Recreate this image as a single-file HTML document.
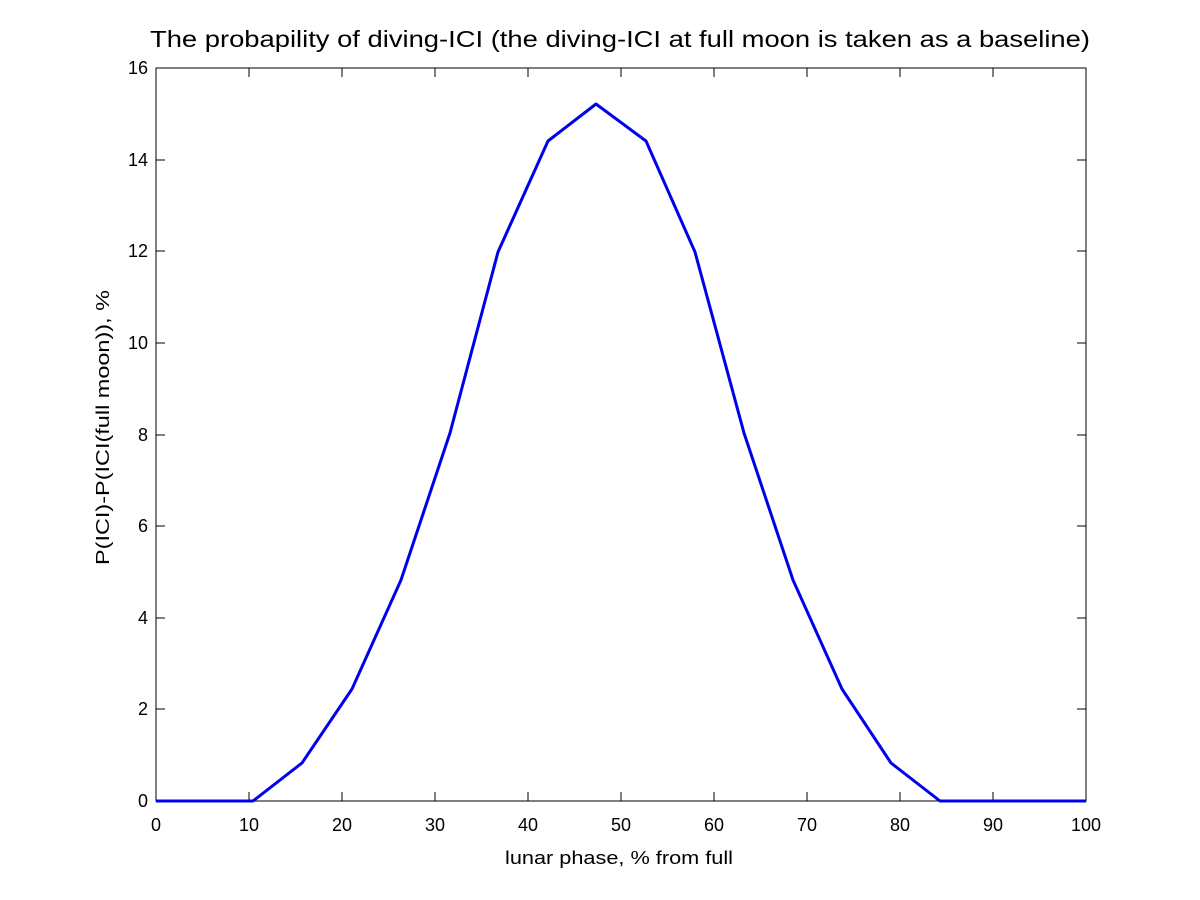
<!DOCTYPE html>
<html><head><style>body{margin:0;background:#fff}svg{display:block}text{font-family:"Liberation Sans",sans-serif;font-size:18px;fill:#000}</style></head><body>
<svg width="1200" height="900" xmlns="http://www.w3.org/2000/svg">
<rect width="1200" height="900" fill="#fff"/>
<rect x="156" y="68" width="930" height="733" fill="#fff" stroke="#000" stroke-width="1"/>
<g stroke="#000" stroke-width="1">
<path d="M156 801v-9M249 801v-9M342 801v-9M435 801v-9M528 801v-9M621 801v-9M714 801v-9M807 801v-9M900 801v-9M993 801v-9M1086 801v-9
M156 68v9M249 68v9M342 68v9M435 68v9M528 68v9M621 68v9M714 68v9M807 68v9M900 68v9M993 68v9M1086 68v9
M156 801h9M156 709h9M156 618h9M156 526h9M156 435h9M156 343h9M156 251h9M156 160h9M156 68h9
M1086 801h-9M1086 709h-9M1086 618h-9M1086 526h-9M1086 435h-9M1086 343h-9M1086 251h-9M1086 160h-9M1086 68h-9"/>
</g>
<g text-anchor="middle">
<text x="156" y="831">0</text><text x="249" y="831">10</text><text x="342" y="831">20</text><text x="435" y="831">30</text><text x="528" y="831">40</text><text x="621" y="831">50</text><text x="714" y="831">60</text><text x="807" y="831">70</text><text x="900" y="831">80</text><text x="993" y="831">90</text><text x="1086" y="831">100</text>
</g>
<g text-anchor="end">
<text x="148" y="807">0</text><text x="148" y="715">2</text><text x="148" y="624">4</text><text x="148" y="532">6</text><text x="148" y="441">8</text><text x="148" y="349">10</text><text x="148" y="257">12</text><text x="148" y="166">14</text><text x="148" y="74">16</text>
</g>
<text x="505" y="864" textLength="228" lengthAdjust="spacingAndGlyphs">lunar phase, % from full</text>
<text x="0" y="0" textLength="275" lengthAdjust="spacingAndGlyphs" transform="translate(109,565) rotate(-90)">P(ICI)-P(ICI(full moon)), %</text>
<text x="150" y="47" textLength="940" lengthAdjust="spacingAndGlyphs" style="font-size:23px">The probapility of diving-ICI (the diving-ICI at full moon is taken as a baseline)</text>
<polyline fill="none" stroke="#0000ee" stroke-width="3" stroke-linejoin="round" points="156,801 253,801 302,763 352,689 401,580 450,433 498,252 548,141 596,104 646,141 695,252 744,433 793,580 842,689 891,763 940,801 1086,801"/>
</svg>
</body></html>
